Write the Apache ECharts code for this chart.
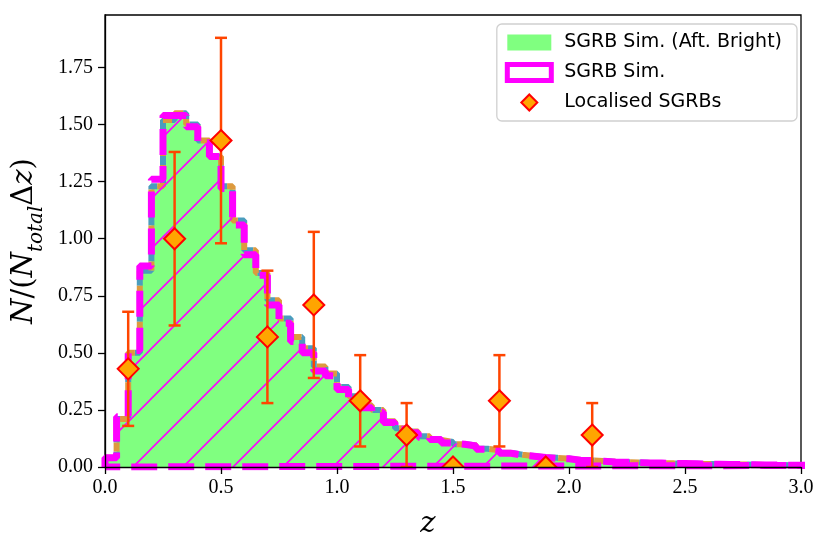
<!DOCTYPE html>
<html>
<head>
<meta charset="utf-8">
<script src="https://cdn.jsdelivr.net/npm/echarts@6/dist/echarts.min.js"></script>
<style>
  html, body { margin: 0; padding: 0; background: #fff; }
  #chart { width: 831px; height: 552px; }
</style>
</head>
<body>
<div id="chart"></div>
<script>
// histogram bins (width 0.05 in z, starting at 0)
var binStart = 0.0;
var binWidth = 0.05;

// SGRB Sim. (all)
var simAll = [
  0.04, 0.22, 0.51, 0.88, 1.26, 1.54, 1.54, 1.49, 1.42, 1.36,
  1.22, 1.06, 0.93, 0.84, 0.71, 0.63, 0.55, 0.50, 0.42, 0.40,
  0.34, 0.30, 0.26, 0.24, 0.195, 0.165, 0.15, 0.13, 0.12, 0.105,
  0.10, 0.092, 0.078, 0.072, 0.06, 0.052, 0.047, 0.042, 0.038, 0.036,
  0.03, 0.028, 0.025, 0.022, 0.021, 0.019, 0.018, 0.017, 0.016, 0.015,
  0.014, 0.013, 0.012, 0.011, 0.011, 0.010, 0.009, 0.009, 0.008, 0.008,
  0.008, 0.007
];

// SGRB Sim. (Aft. Bright)
var simBright = [
  0.04, 0.21, 0.50, 0.86, 1.23, 1.52, 1.55, 1.50, 1.43, 1.36,
  1.23, 1.08, 0.95, 0.85, 0.73, 0.65, 0.57, 0.52, 0.44, 0.41,
  0.35, 0.31, 0.27, 0.25, 0.20, 0.17, 0.155, 0.135, 0.118, 0.11,
  0.10, 0.095, 0.08, 0.074, 0.062, 0.054, 0.048, 0.043, 0.04, 0.037,
  0.031, 0.029, 0.026, 0.023, 0.021, 0.02, 0.018, 0.017, 0.016, 0.015,
  0.014, 0.013, 0.012, 0.011, 0.011, 0.010, 0.009, 0.009, 0.008, 0.008,
  0.008, 0.007
];

// Localised SGRBs
var locZ   = [0.1, 0.3, 0.5, 0.7, 0.9, 1.1, 1.3, 1.5, 1.7, 1.9, 2.1];
var locY   = [0.43, 1.00, 1.43, 0.57, 0.71, 0.29, 0.14, 0.00, 0.29, 0.00, 0.14];
var locErr = [0.25, 0.38, 0.45, 0.29, 0.32, 0.20, 0.14, 0.00, 0.20, 0.00, 0.14];

var serif = 'Liberation Serif';
var mathSerif = 'DejaVu Serif';

function stepPoints(vals, closeBottom) {
  var pts = [[binStart, 0]];
  for (var k = 0; k < vals.length; k++) {
    pts.push([binStart + k * binWidth, vals[k]]);
    pts.push([binStart + (k + 1) * binWidth, vals[k]]);
  }
  pts.push([binStart + vals.length * binWidth, 0]);
  if (closeBottom) pts.push([binStart, 0]);
  return pts;
}

// '/' hatch tile
var hatch = document.createElement('canvas');
hatch.width = 50; hatch.height = 50;
var hc = hatch.getContext('2d');
hc.strokeStyle = '#ff00ff';
hc.lineWidth = 1.6;
hc.beginPath();
hc.moveTo(-5, 55); hc.lineTo(55, -5);
hc.moveTo(-5, 5); hc.lineTo(5, -5);
hc.moveTo(45, 55); hc.lineTo(55, 45);
hc.stroke();

var locData = [];
for (var i = 0; i < locZ.length; i++) locData.push([locZ[i], locY[i], locErr[i]]);

function renderLoc(params, api) {
  var x = api.value(0), y = api.value(1), e = api.value(2);
  var c = api.coord([x, y]);
  var kids = [];
  var barStyle = { stroke: '#ff4500', lineWidth: 2.5 };
  if (e > 0) {
    var lo = api.coord([x, y - e]), hi = api.coord([x, y + e]);
    kids.push({ type: 'line', shape: { x1: lo[0], y1: lo[1], x2: hi[0], y2: hi[1] }, style: barStyle });
    kids.push({ type: 'line', shape: { x1: lo[0] - 6, y1: lo[1], x2: lo[0] + 6, y2: lo[1] }, style: barStyle });
    kids.push({ type: 'line', shape: { x1: hi[0] - 6, y1: hi[1], x2: hi[0] + 6, y2: hi[1] }, style: barStyle });
  }
  var r = 10.5;
  kids.push({
    type: 'polygon',
    shape: { points: [[c[0], c[1] - r], [c[0] + r, c[1]], [c[0], c[1] + r], [c[0] - r, c[1]]] },
    style: { fill: '#ffa500', stroke: '#ff0000', lineWidth: 2 }
  });
  return { type: 'group', children: kids };
}

// legend diamond, padded to the full icon box so it is not stretched
var diamondIcon = 'path://M0,8L0,8ZM44,8L44,8ZM22,-1L31,8L22,17L13,8Z';

var chart = echarts.init(document.getElementById('chart'), null, { renderer: 'canvas' });

var option = {
  backgroundColor: '#fff',
  animation: false,
  grid: {
    left: 105, right: 30, top: 15, bottom: 85,
    outerBoundsMode: 'none', containLabel: false,
    show: true, borderColor: '#000', borderWidth: 1.3, backgroundColor: 'transparent'
  },
  legend: {
    orient: 'vertical',
    right: 34, top: 24,
    selectedMode: false,
    itemWidth: 44, itemHeight: 16, itemGap: 10,
    padding: [9, 15, 9, 8],
    borderColor: '#d0d0d0', borderWidth: 1.3, borderRadius: 5,
    backgroundColor: '#fff',
    textStyle: { fontFamily: 'DejaVu Sans', fontSize: 19, color: '#000', padding: [0, 0, 0, 8] },
    data: [
      { name: 'SGRB Sim. (Aft. Bright)', icon: 'rect', itemStyle: { color: '#80ff80', borderWidth: 0 } },
      { name: 'SGRB Sim.', icon: 'rect', itemStyle: { color: '#fff', borderColor: '#ff00ff', borderWidth: 5 } },
      { name: 'Localised SGRBs', icon: diamondIcon, itemStyle: { color: '#ffa500', borderColor: '#ff0000', borderWidth: 2 } }
    ]
  },
  xAxis: {
    type: 'value', min: 0, max: 3, interval: 0.5, z: 10,
    name: 'z', nameLocation: 'middle', nameGap: 43,
    nameTextStyle: { fontFamily: mathSerif, fontStyle: 'italic', fontSize: 29, color: '#000', padding: [0, 50, 0, 0] },
    axisLine: { lineStyle: { color: '#000', width: 1.3 } },
    axisTick: { inside: false, length: 7, lineStyle: { color: '#000', width: 1.3 } },
    axisLabel: { fontFamily: serif, fontSize: 20, color: '#000', margin: 11,
      formatter: function (v) { return v.toFixed(1); } },
    splitLine: { show: false }
  },
  yAxis: {
    type: 'value', min: 0, max: 1.98, interval: 0.25, z: 10,
    name: '{i|N}/({i|N}{s|total}Δ{i|z})', nameLocation: 'middle', nameGap: 52,
    nameTextStyle: {
      fontFamily: mathSerif, fontSize: 29, color: '#000', lineHeight: 46,
      rich: {
        i: { fontFamily: mathSerif, fontStyle: 'italic', fontSize: 29, lineHeight: 46, verticalAlign: 'middle' },
        s: { fontFamily: mathSerif, fontStyle: 'italic', fontSize: 20, lineHeight: 46, verticalAlign: 'bottom' }
      }
    },
    axisLine: { show: true, lineStyle: { color: '#000', width: 1.3 } },
    axisTick: { show: true, inside: false, length: 7, lineStyle: { color: '#000', width: 1.3 } },
    axisLabel: { fontFamily: serif, fontSize: 20, color: '#000', margin: 12, showMaxLabel: false,
      formatter: function (v) { return Math.abs(v / 0.25 - Math.round(v / 0.25)) < 1e-6 ? v.toFixed(2) : ''; } },
    splitLine: { show: false }
  },
  series: [
    {
      name: 'SGRB Sim. (Aft. Bright)', type: 'line', data: stepPoints(simBright, false),
      symbol: 'none', clip: true, z: 2,
      lineStyle: { width: 0 },
      areaStyle: { color: '#80ff80', opacity: 1 }
    },
    {
      name: 'bright-edge-a', type: 'line', data: stepPoints(simBright, false),
      symbol: 'none', clip: true, z: 3,
      lineStyle: { color: '#4b9dbd', width: 6, type: [9, 9] }
    },
    {
      name: 'bright-edge-b', type: 'line', data: stepPoints(simBright, false),
      symbol: 'none', clip: true, z: 3,
      lineStyle: { color: '#dd9a3e', width: 6, type: [9, 9], dashOffset: 9 }
    },
    {
      name: 'SGRB Sim.', type: 'line', data: stepPoints(simAll, false),
      symbol: 'none', clip: true, z: 4,
      lineStyle: { width: 0 },
      areaStyle: { color: { image: hatch, repeat: 'repeat' }, opacity: 1 }
    },
    {
      name: 'sim-edge', type: 'line', data: stepPoints(simAll, true),
      symbol: 'none', clip: true, z: 5,
      lineStyle: { color: '#ff00ff', width: 7, type: [26, 11] }
    },
    {
      name: 'Localised SGRBs', type: 'custom', data: locData, clip: true, z: 6,
      encode: { x: 0, y: 1 },
      itemStyle: { color: '#ffa500', borderColor: '#ff0000' },
      renderItem: renderLoc
    }
  ]
};

chart.setOption(option);
</script>
</body>
</html>
